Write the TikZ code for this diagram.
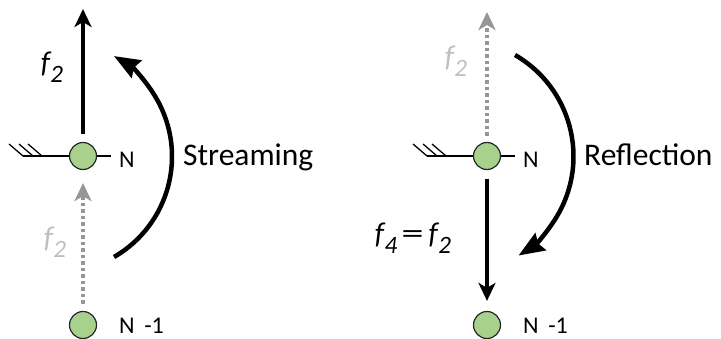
\documentclass[tikz,border=0pt]{standalone}
\usepackage{fontspec}
\setmainfont{Carlito}
\usetikzlibrary{arrows.meta}
\definecolor{nodegreen}{RGB}{169,209,142}
\definecolor{dotgray}{RGB}{150,150,150}
\definecolor{labelgray}{RGB}{191,191,191}
\newcommand\fsym[1]{\textit{f}\kern-1pt\raisebox{-0.32em}{\fontsize{25}{25}\selectfont\itshape #1}}
\begin{document}
\begin{tikzpicture}[x=1pt,y=1pt,
 site/.style={circle, draw=black!85, line width=1.2pt, fill=nodegreen, minimum size=27pt, inner sep=0pt},
 lbl/.style={font=\fontsize{24}{28}\selectfont, anchor=base west, inner sep=0pt},
 big/.style={font=\fontsize{31.5}{36}\selectfont, anchor=base west, inner sep=0pt},
 flbl/.style={font=\fontsize{30}{32}\selectfont, inner sep=0pt},
 solidarrow/.style={line width=4.2pt, -{Stealth[length=18pt,width=17pt,inset=5pt]}},
 dotarrow/.style={dotgray, line width=4pt, dash pattern=on 3.5pt off 3pt, -{Stealth[length=18pt,width=17pt,inset=5pt]}},
 curvearrow/.style={line width=4.5pt, -{Stealth[length=26pt,width=20pt,inset=3pt]}},
 wall/.style={line width=1.3pt},
]
\useasboundingbox (0,0) rectangle (721,338);

% ---------- left: streaming ----------
\coordinate (lw) at (23,182);
\coordinate (le) at (111,182);
\draw[wall] (lw) -- (le);
\draw[wall] (lw) -- ++(-14,12);
\draw[wall] ([xshift=10pt]lw) -- ++(-14,12);
\draw[wall] ([xshift=19pt]lw) -- ++(-14,12);
\node[site] (ln) at (83,182) {};
\node[site] (lm) at (83,13) {};
\node[lbl] (lnl) at (119,171) {N};
\node[lbl] (lml) at (119,5) {N\hspace{0.4em}-1};
\coordinate (ltop) at (83,329);
\draw[solidarrow, shorten <=8pt] (ln) -- (ltop);
\draw[dotarrow, shorten <=7pt, shorten >=13pt] (lm) -- (ln);
\node[flbl] (lf) at (52,271) {\fsym{2}};
\node[flbl, text=labelgray] (lfg) at (55,96) {\fsym{2}};
\draw[curvearrow] (114,81) arc[start angle=-60, end angle=60, radius=116];
\node[big] (ls) at (183,172) {Streaming};

% ---------- right: reflection ----------
\coordinate (rw) at (427,182);
\coordinate (re) at (515,182);
\draw[wall] (rw) -- (re);
\draw[wall] (rw) -- ++(-14,12);
\draw[wall] ([xshift=10pt]rw) -- ++(-14,12);
\draw[wall] ([xshift=19pt]rw) -- ++(-14,12);
\node[site] (rn) at (487,182) {};
\node[site] (rm) at (487,13) {};
\node[lbl] (rnl) at (523,171) {N};
\node[lbl] (rml) at (523,5) {N\hspace{0.4em}-1};
\coordinate (rtop) at (487,326);
\draw[dotarrow, shorten <=6pt] (rn) -- (rtop);
\draw[solidarrow, shorten <=9pt, shorten >=10pt] (rn) -- (rm);
\node[flbl, text=labelgray] (rfg) at (456,277) {\fsym{2}};
\node[flbl] (rf) at (413,100) {\fsym{4}\kern4pt\scalebox{1.5}[1]{=}\kern5pt\fsym{2}};
\draw[curvearrow] (515,283) arc[start angle=60, end angle=-58, radius=117];
\node[big] (rs) at (584,172) {Reflection};
\end{tikzpicture}
\end{document}
